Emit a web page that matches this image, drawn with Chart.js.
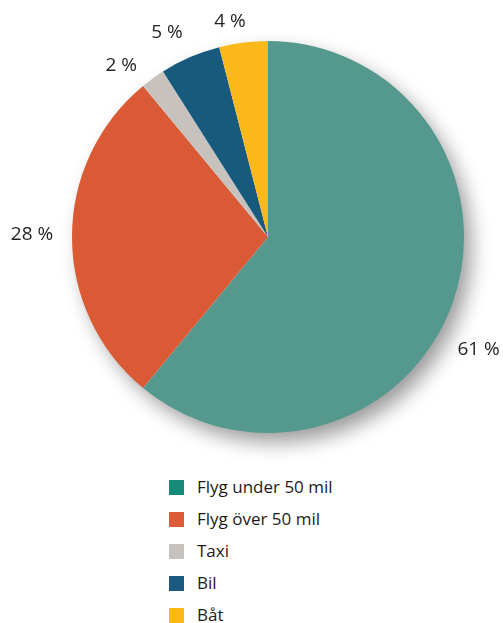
<!DOCTYPE html>
<html>
<head>
   <meta charset="utf-8">
   <script src="https://cdn.jsdelivr.net/npm/chart.js@4/dist/chart.umd.min.js"></script>
   <title>Resor</title>
   <style>
      body { margin: 0; background: #fff; font-family: "Open Sans", sans-serif; }
      #wrap { position: relative; width: 503px; height: 623px; }
      #pie { position: absolute; left: 0; top: 0; }
      #legend { position: absolute; left: 169px; top: 471px; margin: 0; padding: 0; list-style: none; }
      #legend li { height: 32px; line-height: 32px; font-size: 17px; color: #1e1a1b; white-space: nowrap; }
      #legend span { display: inline-block; width: 15px; height: 15px; margin-right: 13px; vertical-align: -2px; }
   </style>
</head>
<body>
<div id="wrap">
   <canvas id="pie" width="503" height="460"></canvas>
   <ul id="legend"></ul>
</div>
<script>
   // data
   const categories = ["Flyg under 50 mil", "Flyg över 50 mil", "Taxi", "Bil", "Båt"];
   const shares = [61, 28, 2, 5, 4];
   const sliceColors = ["#55988e", "#d95a35", "#c8c2bf", "#175a7e", "#fbb81b"];
   const legendColors = ["#168a79", "#dc5a35", "#c8c2bf", "#1a5a80", "#fbb817"];

   // label placement, relative to slice middle (degrees) and pie edge (px)
   const labelTurn = [8.4, 0.5, -4.5, -2.9, -2.8];
   const labelGap = [43, 40, 30, 32, 23];

   const pieShadow = {
      id: 'pieShadow',
      beforeDatasetsDraw(chart) {
         const arc = chart.getDatasetMeta(0).data[0];
         if (!arc) return;
         const ctx = chart.ctx;
         ctx.save();
         ctx.shadowColor = 'rgba(0,0,0,0.4)';
         ctx.shadowBlur = 20;
         ctx.shadowOffsetX = 8;
         ctx.shadowOffsetY = 10;
         ctx.fillStyle = '#fff';
         ctx.beginPath();
         ctx.arc(arc.x, arc.y, arc.outerRadius - 1, 0, Math.PI * 2);
         ctx.fill();
         ctx.restore();
      }
   };

   const outerLabels = {
      id: 'outerLabels',
      afterDatasetsDraw(chart) {
         const ctx = chart.ctx;
         ctx.save();
         ctx.font = '19px "Open Sans"';
         ctx.fillStyle = '#231f20';
         ctx.textAlign = 'center';
         ctx.textBaseline = 'middle';
         chart.getDatasetMeta(0).data.forEach((arc, i) => {
            const mid = (arc.startAngle + arc.endAngle) / 2 + labelTurn[i] * Math.PI / 180;
            const r = arc.outerRadius + labelGap[i];
            ctx.fillText(shares[i] + ' %', arc.x + r * Math.cos(mid), arc.y + r * Math.sin(mid));
         });
         ctx.restore();
      }
   };

   const chart = new Chart(document.getElementById('pie'), {
      type: 'pie',
      data: {
         labels: categories,
         datasets: [{
            data: shares,
            backgroundColor: sliceColors,
            borderWidth: 0
         }]
      },
      options: {
         responsive: false,
         animation: false,
         layout: { padding: { left: 72, right: 39, top: 41, bottom: 27 } },
         plugins: {
            legend: { display: false },
            tooltip: { enabled: false }
         }
      },
      plugins: [pieShadow, outerLabels]
   });

   // legend list
   const legend = document.getElementById('legend');
   chart.data.labels.forEach((label, i) => {
      const li = document.createElement('li');
      const box = document.createElement('span');
      box.style.background = legendColors[i];
      li.appendChild(box);
      li.appendChild(document.createTextNode(label));
      legend.appendChild(li);
   });
</script>
</body>
</html>
